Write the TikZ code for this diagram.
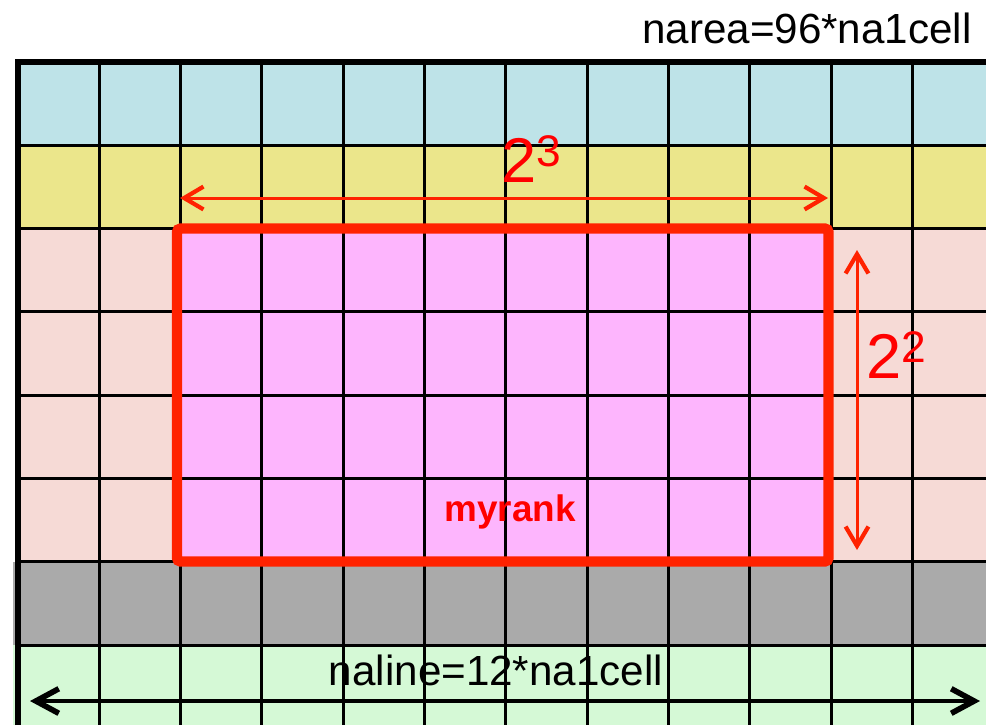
\documentclass[tikz,border=0pt]{standalone}
\usepackage{fontspec}
\setmainfont{Liberation Sans}
\usetikzlibrary{arrows.meta, positioning}
\usepackage{xcolor}

\definecolor{bandblue}{HTML}{BEE3E8}
\definecolor{bandyellow}{HTML}{EBE68B}
\definecolor{bandpink}{HTML}{F6DAD6}
\definecolor{bandgray}{HTML}{AAAAAA}
\definecolor{bandgreen}{HTML}{D5F9D6}
\definecolor{rankfill}{HTML}{FDB5FD}
\definecolor{rankred}{HTML}{FF2200}

\begin{document}
\begin{tikzpicture}[
    x=0.02cm, y=-0.02cm,
    grid line/.style={line width=1.7pt, black},
    border line/.style={line width=3.4pt, black},
    rank box/.style={draw=rankred, line width=5.8pt, rounded corners=2pt},
    dim arrow/.style={rankred, line width=1.7pt, {Straight Barb[length=11pt, width=13pt, line width=2.4pt]}-{Straight Barb[length=11pt, width=13pt, line width=2.4pt]}},
    size arrow/.style={black, line width=2.8pt, {Straight Barb[length=13pt, width=14pt, line width=3.2pt]}-{Straight Barb[length=13pt, width=14pt, line width=3.2pt]}},
    big label/.style={inner sep=0pt, font=\fontsize{24}{28}\selectfont},
    pow label/.style={inner sep=0pt, text=red, font=\fontsize{36}{40}\selectfont},
    rank label/.style={inner sep=0pt, text=red, font=\fontsize{21}{25}\selectfont\bfseries}
]
    \useasboundingbox (0,0) rectangle (986,725);

    % Bands
    \fill[bandblue] (20,62) rectangle (986,145.3);
    \fill[bandyellow] (20,145.3) rectangle (986,228.6);
    \fill[bandpink] (20,228.6) rectangle (986,561.8);
    \fill[bandgray] (13,561.8) rectangle (986,645.1);
    \fill[bandgreen] (13,645.1) rectangle (986,725);
    \fill[rankfill] (180.6,228.6) rectangle (831,561.8);

    % Grid
    \foreach \i in {1,...,11}
        \draw[grid line] (18+81.3*\i,62) -- (18+81.3*\i,725);
    \foreach \j in {1,...,7}
        \draw[grid line] (18,62+83.3*\j) -- (986,62+83.3*\j);
    \draw[border line] (18,725) -- (18,62) -- (986,62);

    % Nodes
    \draw[rank box] (177,228.5) rectangle (828.5,561.5);
    \node[rank label, anchor=base] (myrank) at (510,521) {myrank};
    \node[big label, anchor=base east] (narea) at (972,43) {narea=96*na1cell};
    \node[big label, anchor=base] (naline) at (496,685) {naline=12*na1cell};
    \node[pow label, anchor=base west] (powx) at (501,182) {2\textsuperscript{3}};
    \node[pow label, anchor=base west] (powy) at (866,378) {2\textsuperscript{2}};

    % Edges
    \coordinate (xleft) at (180,198);
    \coordinate (xright) at (828,198);
    \coordinate (ytop) at (857,250);
    \coordinate (ybottom) at (857,550);
    \coordinate (lineleft) at (30,701);
    \coordinate (lineright) at (980,701);
    \draw[dim arrow] (xleft) -- (xright);
    \draw[dim arrow] (ytop) -- (ybottom);
    \draw[size arrow] (lineleft) -- (lineright);
\end{tikzpicture}
\end{document}
